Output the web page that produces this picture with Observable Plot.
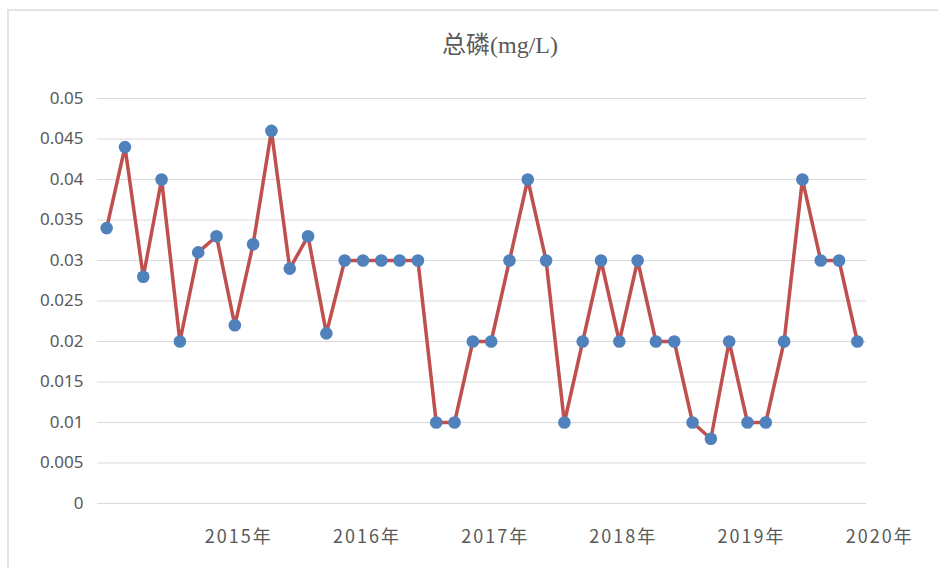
<!DOCTYPE html>
<html>
<head>
<meta charset="utf-8">
<script src="https://cdn.jsdelivr.net/npm/d3@7"></script>
<script src="https://cdn.jsdelivr.net/npm/@observablehq/plot@0.6"></script>
<style>
  html, body { margin: 0; padding: 0; background: #ffffff; }
  #chart { position: relative; width: 938px; height: 568px; overflow: hidden; background: #ffffff; }
  #frame { position: absolute; left: 7px; top: 9px; width: 960px; height: 600px;
           border-top: 2px solid #e3e3e3; border-left: 2px solid #e3e3e3; box-sizing: border-box; }
  #title { position: absolute; left: 0; top: 0; width: 1000px; height: 70px; text-align: center;
           font-family: "Liberation Serif", "Noto Sans CJK SC", serif; font-size: 24px; color: #595959;
           line-height: 90px; }
  #plot { position: absolute; left: 0; top: 70px; }
  .year-label text { letter-spacing: 2px; }
</style>
</head>
<body>
<div id="chart">
  <div id="frame"></div>
  <div id="title">总磷(mg/L)</div>
  <div id="plot"></div>
</div>
<script>
// Total phosphorus readings, in order of sampling
const values = [
  0.034, 0.044, 0.028, 0.040, 0.020, 0.031, 0.033, 0.022, 0.032, 0.046,
  0.029, 0.033, 0.021, 0.030, 0.030, 0.030, 0.030, 0.030, 0.010, 0.010,
  0.020, 0.020, 0.030, 0.040, 0.030, 0.010, 0.020, 0.030, 0.020, 0.030,
  0.020, 0.020, 0.010, 0.008, 0.020, 0.010, 0.010, 0.020, 0.040, 0.030,
  0.030, 0.020
];

// Year labels and the sample index each one sits at
const yearLabels = ["2015年", "2016年", "2017年", "2018年", "2019年", "2020年"];
const yearIndex = [7, 14, 21, 28, 35, 42];

// Value axis ticks
const yTicks = [0, 0.005, 0.01, 0.015, 0.02, 0.025, 0.03, 0.035, 0.04, 0.045, 0.05];

const points = values.map((v, i) => ({i, v}));
const years = yearLabels.map((label, k) => ({label, i: yearIndex[k]}));

const chart = Plot.plot({
  width: 938,
  height: 498,
  marginTop: 28,
  marginBottom: 65,
  marginLeft: 97,
  marginRight: 72,
  x: {type: "linear", domain: [-0.5, values.length - 0.5], axis: null},
  y: {domain: [0, 0.05], axis: null},
  style: {fontFamily: "'Noto Sans', 'Noto Sans CJK SC', sans-serif", background: "transparent"},
  marks: [
    Plot.gridY(yTicks, {stroke: "#d9d9d9", strokeOpacity: 1, strokeWidth: 1}),
    Plot.axisY(yTicks, {
      label: null, tickSize: 0, tickPadding: 14, fontSize: 17, fill: "#595959",
      tickFormat: d => String(+d.toFixed(3))
    }),
    Plot.text(years, {
      x: "i", y: () => 0, text: "label", dy: 34, dx: 4,
      fontSize: 18, fill: "#595959", className: "year-label",
      fontFamily: "'Noto Sans CJK SC', sans-serif"
    }),
    Plot.line(points, {x: "i", y: "v", stroke: "#C0504D", strokeWidth: 3.5}),
    Plot.dot(points, {x: "i", y: "v", r: 6.3, fill: "#4F81BD", stroke: "none"})
  ]
});

document.getElementById("plot").appendChild(chart);
</script>
</body>
</html>
